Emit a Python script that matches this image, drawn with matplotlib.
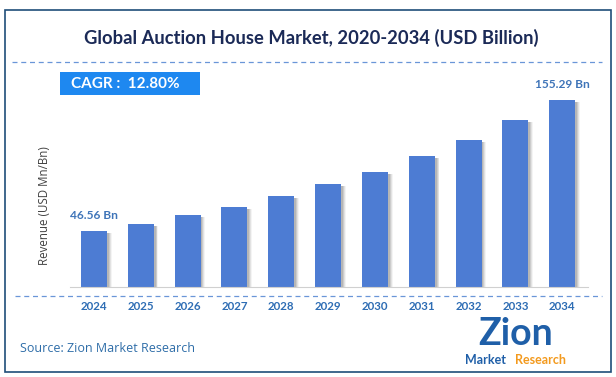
import matplotlib.pyplot as plt
from matplotlib.patches import Rectangle
from matplotlib.lines import Line2D

years = ['2024', '2025', '2026', '2027', '2028', '2029', '2030', '2031', '2032', '2033', '2034']
revenue = [46.56, 52.5, 59.6, 66.5, 75.6, 85.4, 95.5, 108.6, 122.0, 138.6, 155.29]
first_label = '46.56 Bn'
last_label = '155.29 Bn'
cagr_text = 'CAGR :  12.80%'
title = 'Global Auction House Market, 2020-2034 (USD Billion)'

W, H = 616, 377
fig = plt.figure(figsize=(W / 100, H / 100), dpi=100)
fig.patch.set_facecolor('white')


def px(x, y):
    # pixel coords (from top-left) -> figure fraction
    return x / W, 1 - y / H


# outer frame
fig.patches.append(Rectangle(px(5, 372), 606 / W, 362 / H, transform=fig.transFigure,
                             fill=False, edgecolor='#1F4E79', linewidth=1.2))

# dashed separators
for yy, x0, x1 in [(62, 12, 602), (296, 15, 602)]:
    a, b = px(x0, yy)
    c, _ = px(x1, yy)
    fig.lines.append(Line2D([a, c], [b, b], transform=fig.transFigure,
                            color='#6A96D8', linestyle=(0, (4, 3)), linewidth=0.9))

fig.text(*px(311, 38), title, ha='center', va='center', fontsize=13.2,
         fontweight='bold', color='#1B2A57', family='Lato')

# CAGR badge
fig.patches.append(Rectangle(px(60, 95), 140 / W, 23 / H, transform=fig.transFigure,
                             facecolor='#1E88F0', edgecolor='none'))
fig.text(*px(71, 84), cagr_text, ha='left', va='center', fontsize=11,
         fontweight='bold', color='white', family='Lato')

# bar axes
ax = fig.add_axes([70 / W, 90 / H, 518 / W, 222.6 / H])
x = list(range(len(years)))
for dx, al in [(0.10, 0.08), (0.08, 0.15), (0.06, 0.22), (0.04, 0.28)]:
    ax.bar([i + dx for i in x], [v - 1.5 for v in revenue], width=0.556,
           color='#7f7f7f', alpha=al, zorder=1, linewidth=0)
ax.bar(x, revenue, width=0.556, color='#4D7CD3', zorder=2, linewidth=0)
ax.set_xlim(-0.51, 10.55)
ax.set_ylim(0, 185)
for s in ['top', 'right', 'left']:
    ax.spines[s].set_visible(False)
ax.spines['bottom'].set_color('#d0d0d0')
ax.set_yticks([])
ax.set_xticks(x)
ax.set_xticklabels(years, fontsize=8.3, fontweight='bold', color='#2E6DB4', family='Lato')
ax.tick_params(axis='x', length=0, pad=10)

ax.annotate(first_label, (0, revenue[0]), xytext=(0, 7), textcoords='offset points',
            ha='center', va='bottom', fontsize=8.6, fontweight='bold', color='#3E74B8', family='Lato')
ax.annotate(last_label, (10, revenue[-1]), xytext=(0, 7), textcoords='offset points',
            ha='center', va='bottom', fontsize=8.6, fontweight='bold', color='#3E74B8', family='Lato')

fig.text(*px(45, 206), 'Revenue (USD Mn/Bn)', rotation=90, ha='center', va='center',
         fontsize=8.3, color='#404040', family='Open Sans')

fig.text(*px(20, 348), 'Source: Zion Market Research', ha='left', va='center',
         fontsize=9, color='#2E6DA8', family='Open Sans')

# logo
fig.text(*px(516, 334), 'Zion', ha='center', va='center', fontsize=27,
         fontweight='bold', color='#1F5FA8', family='Lato')
fig.text(*px(486, 360), 'Market', ha='center', va='center', fontsize=9,
         fontweight='bold', color='#1F5FA8', family='Lato')
fig.text(*px(540, 360), 'Research', ha='center', va='center', fontsize=9,
         fontweight='bold', color='#F39A1E', family='Lato')

fig.savefig('out.png', dpi=100)
